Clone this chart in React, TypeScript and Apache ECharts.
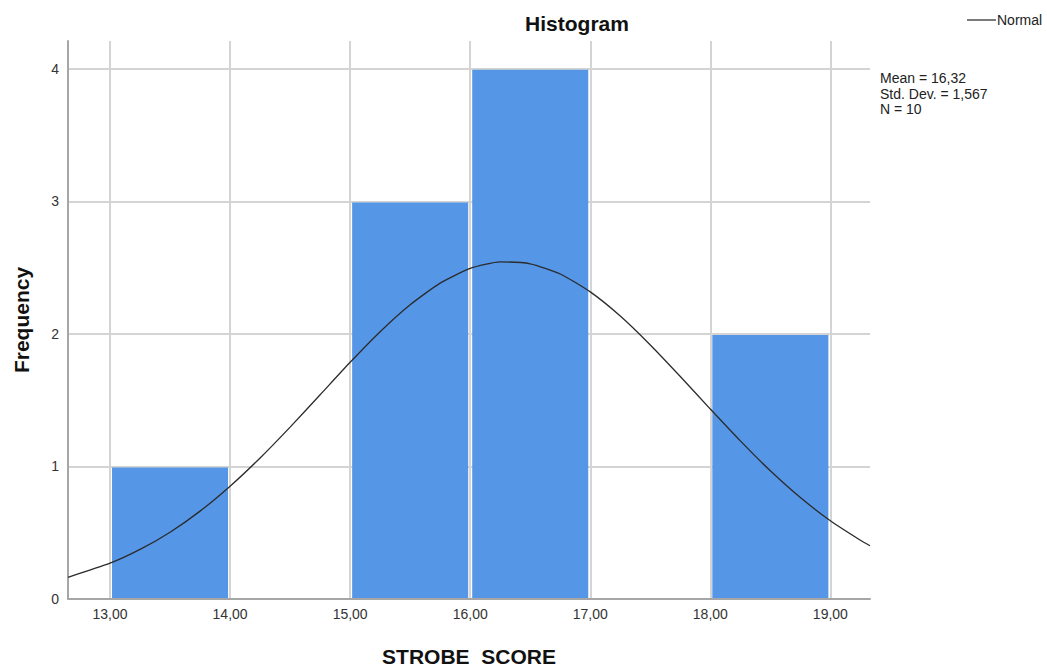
import React, { useEffect, useRef } from "react";
import * as echarts from "echarts";

// Histogram bins: [start, end, frequency]
const binStarts = [13, 15, 16, 18];
const binEnds = [14, 16, 17, 19];
const frequencies = [1, 3, 4, 2];

// Normal curve (x, frequency)
const curveX = [12.65, 13, 13.25, 13.5, 13.75, 14, 14.25, 14.5, 14.75, 15, 15.25, 15.5, 15.75, 16, 16.25, 16.5, 16.75, 17, 17.25, 17.5, 17.75, 18, 18.25, 18.5, 18.75, 19, 19.25, 19.33];
const curveY = [0.164, 0.27, 0.374, 0.504, 0.663, 0.851, 1.064, 1.297, 1.541, 1.786, 2.017, 2.22, 2.383, 2.494, 2.543, 2.529, 2.452, 2.317, 2.135, 1.917, 1.679, 1.433, 1.193, 0.967, 0.765, 0.59, 0.443, 0.402];

const xTicks = [13, 14, 15, 16, 17, 18, 19];
const yTicks = [0, 1, 2, 3, 4];
const statsLines = ["Mean = 16,32", "Std. Dev. = 1,567", "N = 10"];

const FONT = "'Liberation Sans', Arial, sans-serif";

export default function App() {
  const ref = useRef<HTMLDivElement>(null);
  useEffect(() => {
    if (!ref.current) return;
    const chart = echarts.init(ref.current, undefined, { renderer: "svg" });
    const barData = binStarts.map((s, i) => [s, binEnds[i], frequencies[i]]);
    const lineData = curveX.map((x, i) => [x, curveY[i]]);
    chart.setOption({
      animation: false,
      backgroundColor: "#ffffff",
      textStyle: { fontFamily: FONT },
      grid: { left: 68, right: 177, top: 41, bottom: 70, containLabel: false, outerBoundsMode: "none" },
      xAxis: {
        type: "value",
        min: 12.65,
        max: 19.33,
        name: "STROBE  SCORE",
        nameLocation: "middle",
        nameGap: 47,
        nameTextStyle: { fontFamily: FONT, fontSize: 21, fontWeight: "bold", color: "#111" },
        axisLine: { show: true, onZero: false, lineStyle: { color: "#a6a6a6", width: 2 } },
        axisTick: { show: false, customValues: xTicks },
        axisLabel: {
          customValues: xTicks,
          color: "#333",
          fontSize: 14,
          margin: 8,
          formatter: (v: number) => v.toFixed(2).replace(".", ","),
        },
        splitLine: { show: true, lineStyle: { color: "#d4d4d4", width: 2 } },
      },
      yAxis: {
        type: "value",
        min: 0,
        max: 4.21,
        name: "Frequency",
        nameLocation: "middle",
        nameGap: 36,
        nameRotate: 90,
        nameTextStyle: { fontFamily: FONT, fontSize: 21, fontWeight: "bold", color: "#111" },
        axisLine: { show: true, lineStyle: { color: "#a6a6a6", width: 2 } },
        axisTick: { show: false, customValues: yTicks },
        axisLabel: { customValues: yTicks, color: "#333", fontSize: 14, margin: 9 },
        splitLine: { show: true, lineStyle: { color: "#d4d4d4", width: 2 } },
      },
      series: [
        {
          type: "custom",
          data: barData,
          encode: { x: [0, 1], y: 2 },
          z: 2,
          renderItem: (params: any, api: any) => {
            const p0 = api.coord([api.value(0), api.value(2)]);
            const p1 = api.coord([api.value(1), 0]);
            return {
              type: "rect",
              shape: { x: p0[0] + 2, y: p0[1] + 1, width: p1[0] - p0[0] - 4, height: p1[1] - p0[1] - 2 },
              style: { fill: "#5596e6" },
            };
          },
        },
        {
          type: "line",
          name: "Normal",
          data: lineData,
          smooth: 0.2,
          showSymbol: false,
          z: 3,
          lineStyle: { color: "#2b2b2b", width: 1.3 },
        },
      ],
      graphic: [
        {
          type: "text",
          x: 577,
          y: 23,
          style: { text: "Histogram", font: `bold 21px ${FONT}`, fill: "#111", textAlign: "center", textVerticalAlign: "middle" },
        },
        { type: "line", shape: { x1: 967, y1: 20, x2: 996, y2: 20 }, style: { stroke: "#333", lineWidth: 1.3 } },
        {
          type: "text",
          x: 997,
          y: 20,
          style: { text: "Normal", font: `14px ${FONT}`, fill: "#222", textVerticalAlign: "middle" },
        },
        ...statsLines.map((t, i) => ({
          type: "text",
          x: 880,
          y: 78 + i * 15.5,
          style: { text: t, font: `14px ${FONT}`, fill: "#222", textVerticalAlign: "middle" },
        })),
      ],
    });
    return () => chart.dispose();
  }, []);
  return <div ref={ref} style={{ position: "fixed", left: 0, top: 0, width: 1047, height: 669 }} />;
}
